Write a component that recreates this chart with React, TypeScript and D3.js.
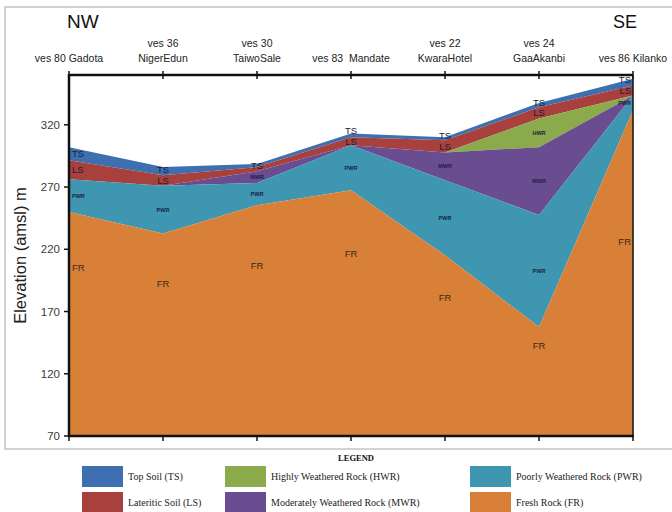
import React from "react";
import * as d3 from "d3";

// Geoelectric section: stations from NW to SE
const stations = ["Gadota", "NigerEdun", "TaiwoSale", "Mandate", "KwaraHotel", "GaaAkanbi", "Kilanko"];
const stationLine1 = ["ves 80 Gadota", "ves 36", "ves 30", "ves 83  Mandate", "ves 22", "ves 24", "ves 86 Kilanko"];
const stationLine2 = ["", "NigerEdun", "TaiwoSale", "", "KwaraHotel", "GaaAkanbi", ""];

// Elevation (m amsl) of the top of each layer at every station
const tsTop = [302, 286, 288.5, 313, 310, 337.5, 357];
const lsTop = [291.5, 279.5, 286, 310, 307.5, 334, 351.5];
const hwrTop = [276.3, 271, 282.7, 303.6, 297.7, 325, 343.5];
const mwrTop = [276.3, 271, 282.7, 303.6, 297.7, 302, 343.5];
const pwrTop = [276.3, 271, 273.3, 303.6, 275.5, 247.5, 343.5];
const frTop = [250, 232.7, 255.4, 267.4, 215.3, 157.5, 331.6];
const baseElevation = 70;

// Elevation at which the FR tag sits in each column
const frLabelElev = [205.6, 192.8, 207.2, 216.9, 180.8, 143, 226.5];

// Stations where each layer carries a tag
const tsLabelAt = [0, 1, 2, 3, 4, 5, 6];
const lsLabelAt = [0, 1, 3, 4, 5, 6];
const hwrLabelAt = [5];
const mwrLabelAt = [2, 4, 5];
const pwrLabelAt = [0, 1, 2, 3, 4, 5, 6];

const yTicks = [70, 120, 170, 220, 270, 320];

const layerNames = ["Top Soil (TS)", "Lateritic Soil (LS)", "Highly Weathered Rock (HWR)", "Moderately Weathered Rock (MWR)", "Poorly Weathered Rock (PWR)", "Fresh Rock (FR)"];
const layerCodes = ["TS", "LS", "HWR", "MWR", "PWR", "FR"];
const layerColors = ["#3E6FB0", "#A8403D", "#8AAA4B", "#6A4C90", "#3F96B0", "#D98038"];

const W = 672;
const H = 512;
const left = 69;
const right = 633;
const top = 75;
const bottom = 436;
const SANS = "Liberation Sans, Arial, sans-serif";
const SERIF = "Liberation Serif, Times New Roman, serif";

export default function App() {
  const x = d3.scalePoint<string>().domain(stations).range([left, right]);
  const y = d3.scaleLinear().domain([70, 360]).range([bottom, top]);

  const base = stations.map(() => baseElevation);
  const bands: { code: string; color: string; hi: number[]; lo: number[] }[] = [
    { code: "TS", color: layerColors[0], hi: tsTop, lo: lsTop },
    { code: "LS", color: layerColors[1], hi: lsTop, lo: hwrTop },
    { code: "HWR", color: layerColors[2], hi: hwrTop, lo: mwrTop },
    { code: "MWR", color: layerColors[3], hi: mwrTop, lo: pwrTop },
    { code: "PWR", color: layerColors[4], hi: pwrTop, lo: frTop },
    { code: "FR", color: layerColors[5], hi: frTop, lo: base },
  ];

  const area = (hi: number[], lo: number[]) =>
    d3
      .area<number>()
      .x((_, i) => x(stations[i]) as number)
      .y0((_, i) => y(lo[i]))
      .y1((_, i) => y(hi[i]))(stations.map((_, i) => i)) as string;

  const anchorFor = (i: number) => (i === 0 ? "start" : i === stations.length - 1 ? "end" : "middle");
  const dxFor = (i: number) => (i === 0 ? 3 : i === stations.length - 1 ? -2 : 0);

  // TS / LS tags sit at the middle of their band; a TS tag is nudged up
  // so it stays clear of the LS tag directly below it.
  const lsY = (i: number) => y((lsTop[i] + hwrTop[i]) / 2);
  const tsY = (i: number) => {
    const mid = y((tsTop[i] + lsTop[i]) / 2);
    return lsLabelAt.includes(i) ? Math.min(mid, lsY(i) - 10.5) : mid;
  };

  const bigTag = (code: string, idx: number[], posY: (i: number) => number) =>
    idx.map((i) => (
      <text
        key={code + i}
        x={(x(stations[i]) as number) + dxFor(i)}
        y={posY(i)}
        dy="0.36em"
        textAnchor={anchorFor(i)}
        fontSize={9.5}
        fontFamily={SANS}
        fill="#1d1d33"
      >
        {code}
      </text>
    ));

  const smallTag = (code: string, idx: number[], hi: number[], lo: number[]) =>
    idx.map((i) => (
      <text
        key={code + i}
        x={(x(stations[i]) as number) + dxFor(i)}
        y={y((hi[i] + lo[i]) / 2)}
        dy="0.36em"
        textAnchor={anchorFor(i)}
        fontSize={5.5}
        fontWeight="bold"
        fontFamily={SANS}
        fill="#1b2142"
      >
        {code}
      </text>
    ));

  const legendCols = [82, 225, 470];
  const legendRows = [466, 492];

  return (
    <svg
      width={W}
      height={H}
      viewBox={`0 0 ${W} ${H}`}
      style={{ position: "absolute", left: 0, top: 0, background: "#fff" }}
    >
      {/* outer frame */}
      <rect x={5} y={7} width={700} height={442} fill="none" stroke="#c4c4c4" strokeWidth={1.5} />

      {/* layers */}
      {bands.map((b) => (
        <path key={b.code} d={area(b.hi, b.lo)} fill={b.color} />
      ))}

      {/* layer tags */}
      {bigTag("TS", tsLabelAt, tsY)}
      {bigTag("LS", lsLabelAt, lsY)}
      {smallTag("HWR", hwrLabelAt, hwrTop, mwrTop)}
      {smallTag("MWR", mwrLabelAt, mwrTop, pwrTop)}
      {smallTag("PWR", pwrLabelAt, pwrTop, frTop)}
      {stations.map((s, i) => (
        <text
          key={"FR" + i}
          x={(x(s) as number) + dxFor(i)}
          y={y(frLabelElev[i])}
          dy="0.36em"
          textAnchor={anchorFor(i)}
          fontSize={9.5}
          fontFamily={SANS}
          fill="#3a2818"
        >
          FR
        </text>
      ))}

      {/* axes frame */}
      <g stroke="#111" strokeWidth={2.5} fill="none">
        <line x1={left} y1={top} x2={right} y2={top} />
        <line x1={left} y1={bottom} x2={right + 1} y2={bottom} />
        <line x1={left} y1={top - 1} x2={left} y2={bottom + 1} />
      </g>
      <line x1={right} y1={top} x2={right} y2={bottom + 1} stroke="#111" strokeWidth={1.5} />

      {/* station ticks */}
      {stations.map((s) => (
        <g key={"t" + s} stroke="#111" strokeWidth={1.5}>
          <line x1={x(s)} x2={x(s)} y1={top - 4} y2={top + 4} />
          <line x1={x(s)} x2={x(s)} y1={bottom} y2={bottom + 5} />
        </g>
      ))}

      {/* elevation ticks */}
      {yTicks.map((t) => (
        <g key={"y" + t}>
          <line x1={left - 5} x2={left} y1={y(t)} y2={y(t)} stroke="#111" strokeWidth={1.5} />
          <text
            x={left - 9}
            y={y(t)}
            dy="0.36em"
            textAnchor="end"
            fontSize={11.5}
            fontFamily={SANS}
            fill="#3a3a3a"
          >
            {t}
          </text>
        </g>
      ))}

      {/* station names */}
      {stations.map((s, i) => (
        <g key={"n" + s} fontFamily={SANS} fontSize={10.5} fill="#222" textAnchor="middle">
          {stationLine2[i] ? (
            <>
              <text x={x(s)} y={47}>{stationLine1[i]}</text>
              <text x={x(s)} y={62}>{stationLine2[i]}</text>
            </>
          ) : (
            <text x={x(s)} y={62} style={{ whiteSpace: "pre" }}>{stationLine1[i]}</text>
          )}
        </g>
      ))}

      {/* profile direction */}
      <text x={67} y={28} fontSize={19} fontFamily={SANS} fill="#111">NW</text>
      <text x={613} y={28} fontSize={18} fontFamily={SANS} fill="#111">SE</text>

      {/* y-axis title */}
      <text
        transform={`translate(26, ${(top + bottom) / 2}) rotate(-90)`}
        textAnchor="middle"
        fontSize={16.5}
        fontFamily={SANS}
        fill="#222"
      >
        Elevation (amsl) m
      </text>

      {/* legend */}
      <text x={356} y={461} textAnchor="middle" fontSize={8.5} fontWeight="bold" fontFamily={SERIF} fill="#111">
        LEGEND
      </text>
      {layerNames.map((name, k) => {
        const col = Math.floor(k / 2);
        const row = k % 2;
        const lx = legendCols[col];
        const ly = legendRows[row];
        return (
          <g key={layerCodes[k]}>
            <rect x={lx} y={ly} width={41} height={21} fill={layerColors[k]} />
            <text x={lx + 46} y={ly + 13.5} fontSize={10} fontFamily={SERIF} fill="#222">
              {name}
            </text>
          </g>
        );
      })}
    </svg>
  );
}
